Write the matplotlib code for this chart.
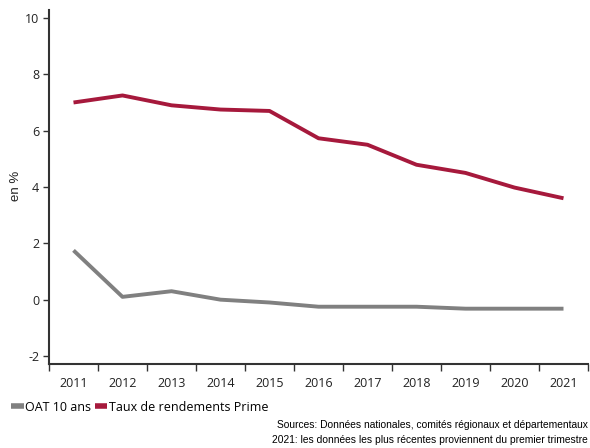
import matplotlib
matplotlib.use("Agg")
import matplotlib.pyplot as plt
import numpy as np

years = ["2011", "2012", "2013", "2014", "2015", "2016", "2017", "2018", "2019", "2020", "2021"]
oat = [1.75, 0.1, 0.3, 0.0, -0.1, -0.25, -0.25, -0.25, -0.32, -0.32, -0.32]
prime = [7.0, 7.25, 6.9, 6.75, 6.7, 5.73, 5.5, 4.79, 4.5, 3.98, 3.6]
yticks = [-2, 0, 2, 4, 6, 8, 10]

fig = plt.figure(figsize=(5.9, 4.48), dpi=100)
ax = fig.add_axes([49/590, 1-364/448, (588-49)/590, (364-10)/448])

x = np.arange(len(years))
ax.plot(x, oat, color="#808080", lw=2.8, solid_capstyle="butt", label="OAT 10 ans")
ax.plot(x, prime, color="#a6193c", lw=2.8, solid_capstyle="butt", label="Taux de rendements Prime")

ax.set_xlim(-0.5, len(years) - 0.5)
ax.set_ylim(-2.284, 10.284)
ax.set_yticks(yticks)
ax.set_yticklabels([str(v) for v in yticks], fontfamily="Open Sans", fontsize=9, color="#222222")
ax.set_xticks(x)
ax.set_xticklabels(years, fontfamily="Open Sans", fontsize=9, color="#222222")
ax.set_xticks(np.arange(-0.5, len(years) + 0.5, 1), minor=True)
ax.tick_params(axis="x", which="major", length=0, pad=9)
ax.tick_params(axis="x", which="minor", length=5, width=1, color="#333333", direction="out")
ax.tick_params(axis="y", length=4, width=1, color="#333333", direction="out", pad=3)

for s in ["top", "right"]:
    ax.spines[s].set_visible(False)
for s in ["left", "bottom"]:
    ax.spines[s].set_color("#333333")
    ax.spines[s].set_linewidth(1.5)

fig.text(16/590, 1-186/448, "en %", rotation=90, ha="center", va="center",
         fontfamily="Liberation Sans", fontsize=9.5, color="#222222")

leg = fig.legend(loc="center left", bbox_to_anchor=(11/590, 1-407/448), ncol=2, frameon=False,
                 prop={"family": "Open Sans", "size": 9}, handlelength=1.0, handletextpad=0.15,
                 columnspacing=0.25, borderaxespad=0, borderpad=0)
for h in leg.get_lines():
    h.set_linewidth(4)

fig.text(588/590, 1-425/448, "Sources: Données nationales, comités régionaux et départementaux",
         ha="right", va="center", fontfamily="Liberation Sans", fontsize=7.4, color="#000000")
fig.text(588/590, 1-440/448, "2021: les données les plus récentes proviennent du premier trimestre",
         ha="right", va="center", fontfamily="Liberation Sans", fontsize=7.4, color="#000000")

fig.savefig("out.png", dpi=100)
